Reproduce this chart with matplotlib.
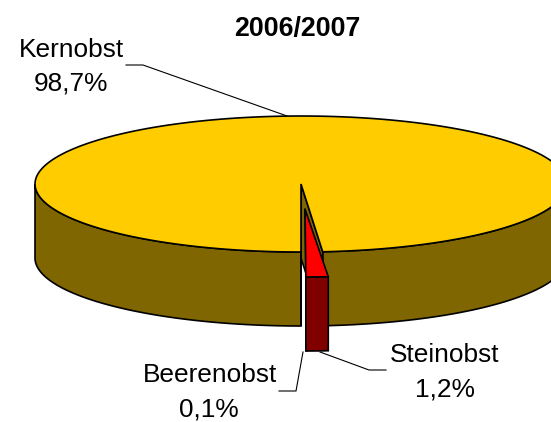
import numpy as np
import matplotlib
matplotlib.use("Agg")
import matplotlib.pyplot as plt
from matplotlib.patches import Polygon

plt.rcParams["font.family"] = ["Liberation Sans", "DejaVu Sans"]

# -------------------------
# Data
# -------------------------
title = "2006/2007"
categories = ["Kernobst", "Beerenobst", "Steinobst"]
shares = [98.7, 0.1, 1.2]
share_labels = ["98,7%", "0,1%", "1,2%"]

# -------------------------
# Pie geometry (pixels)
# -------------------------
CX, CY = 301, 184
RX, RY = 266, 68
DEPTH = 74
STEIN_SHIFT = (4, 25)

YELLOW = "#FFCC00"
BROWN = "#806600"
RED = "#FF0000"
DARK_RED = "#800000"
FONT_SIZE = 18.9


def rim(a_deg, shift=(0, 0), drop=0):
    # angle 0 is the bottom of the ellipse, positive goes to the right
    a = np.radians(a_deg)
    return CX + shift[0] + RX * np.sin(a), CY + shift[1] + RY * np.cos(a) + drop


def arc(a0, a1, shift=(0, 0), drop=0, n=200):
    x, y = rim(np.linspace(a0, a1, n), shift, drop)
    return np.column_stack([x, y])


def poly(ax, pts, color, z):
    ax.add_patch(Polygon(pts, closed=True, facecolor=color, edgecolor="black",
                         linewidth=1.2, joinstyle="miter", zorder=z))


fig = plt.figure(figsize=(5.51, 4.22), dpi=100)
ax = fig.add_axes([0, 0, 1, 1])
ax.set_xlim(0, 551)
ax.set_ylim(422, 0)
ax.axis("off")

degrees = np.array(shares) / sum(shares) * 360
beere_deg = degrees[1]
stein_deg = degrees[2]
gap = beere_deg + stein_deg
centre = (CX, CY)

# outer wall of the big slice, left part
poly(ax, np.vstack([arc(-90, 0), arc(0, -90, drop=DEPTH)]), BROWN, 2)

# outer wall, right part
poly(ax, np.vstack([arc(gap, 90), arc(90, gap, drop=DEPTH)]), BROWN, 2)

# cut faces of the notch
edge = rim(gap)
poly(ax, [centre, edge, (edge[0], edge[1] + DEPTH), (CX, CY + DEPTH)], BROWN, 3)
poly(ax, [centre, rim(0), (CX, CY + RY + DEPTH), (CX, CY + DEPTH)], BROWN, 3)

# top of the big slice
poly(ax, np.vstack([[centre], arc(gap, 360)]), YELLOW, 4)

# Beerenobst, a sliver next to Steinobst
ax.plot(*zip((CX + STEIN_SHIFT[0], CY + STEIN_SHIFT[1]),
             rim(beere_deg, STEIN_SHIFT, DEPTH)), color="black", lw=1, zorder=6)

# Steinobst, pulled out of the pie
apex = (CX + STEIN_SHIFT[0], CY + STEIN_SHIFT[1])
s0, s1 = beere_deg / 2, beere_deg / 2 + stein_deg * 1.12
poly(ax, np.vstack([arc(s0, s1, STEIN_SHIFT),
                    arc(s1, s0, STEIN_SHIFT, DEPTH)]), DARK_RED, 7)
poly(ax, np.vstack([[apex], arc(s0, s1, STEIN_SHIFT)]), RED, 8)

# -------------------------
# Text and leader lines
# -------------------------
ax.text(297, 29, title, ha="center", va="center", fontsize=19.3,
        fontweight="bold")
ax.text(71, 50, categories[0], ha="center", va="center", fontsize=FONT_SIZE)
ax.text(71, 84, share_labels[0], ha="center", va="center", fontsize=FONT_SIZE)
ax.text(210, 375, categories[1], ha="center", va="center", fontsize=FONT_SIZE)
ax.text(209, 409, share_labels[1], ha="center", va="center", fontsize=FONT_SIZE)
ax.text(445, 355, categories[2], ha="center", va="center", fontsize=FONT_SIZE)
ax.text(445, 390, share_labels[2], ha="center", va="center", fontsize=FONT_SIZE)

ax.plot([126, 143, 287], [65, 65, 116], color="black", lw=0.8, zorder=1)
ax.plot([279, 296, 303], [391, 391, 352], color="black", lw=0.8, zorder=1)
ax.plot([386, 369, 320], [370, 370, 352], color="black", lw=0.8, zorder=1)

fig.savefig("out.png", dpi=100)
